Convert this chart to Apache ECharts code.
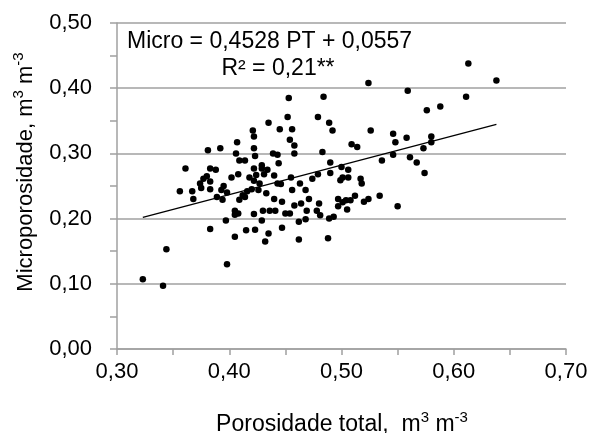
<!DOCTYPE html>
<html>
<head>
<meta charset="utf-8">
<script src="https://cdn.jsdelivr.net/npm/echarts@6/dist/echarts.min.js"></script>
<style>html,body{margin:0;padding:0;background:#fff;}#c{width:593px;height:433px;}</style>
</head>
<body>
<div id="c"></div>
<script>
var porosidadeTotal = [0.323,0.341,0.344,0.356,0.361,0.367,0.368,0.374,0.375,0.377,0.380,0.381,0.383,0.383,0.383,0.383,0.388,0.389,0.392,0.393,0.394,0.395,0.397,0.398,0.398,0.402,0.405,0.405,0.405,0.406,0.407,0.408,0.408,0.409,0.409,0.412,0.414,0.414,0.415,0.416,0.418,0.420,0.421,0.422,0.422,0.422,0.422,0.422,0.423,0.423,0.424,0.427,0.426,0.429,0.429,0.430,0.429,0.431,0.432,0.433,0.434,0.435,0.435,0.436,0.439,0.440,0.440,0.441,0.443,0.443,0.444,0.445,0.446,0.447,0.447,0.450,0.452,0.453,0.454,0.454,0.455,0.456,0.456,0.458,0.458,0.458,0.462,0.462,0.463,0.464,0.468,0.468,0.469,0.471,0.474,0.478,0.479,0.479,0.480,0.481,0.484,0.483,0.488,0.489,0.489,0.490,0.490,0.492,0.493,0.497,0.497,0.499,0.500,0.501,0.501,0.504,0.505,0.506,0.506,0.508,0.509,0.514,0.512,0.517,0.518,0.520,0.524,0.524,0.526,0.534,0.536,0.546,0.546,0.548,0.550,0.558,0.559,0.561,0.567,0.573,0.574,0.576,0.580,0.580,0.588,0.611,0.613,0.638];
var microporosidade = [0.107,0.097,0.153,0.242,0.277,0.242,0.230,0.254,0.247,0.261,0.265,0.305,0.277,0.257,0.245,0.184,0.275,0.233,0.308,0.244,0.229,0.250,0.197,0.240,0.130,0.263,0.212,0.172,0.206,0.300,0.317,0.268,0.208,0.289,0.229,0.236,0.289,0.233,0.182,0.242,0.263,0.245,0.335,0.326,0.308,0.277,0.258,0.207,0.296,0.183,0.267,0.254,0.244,0.282,0.197,0.212,0.277,0.268,0.165,0.239,0.275,0.347,0.177,0.212,0.300,0.266,0.230,0.212,0.298,0.254,0.285,0.337,0.253,0.186,0.226,0.208,0.356,0.385,0.321,0.208,0.263,0.244,0.337,0.220,0.312,0.300,0.195,0.168,0.254,0.223,0.244,0.199,0.212,0.230,0.261,0.212,0.356,0.268,0.223,0.205,0.387,0.302,0.170,0.347,0.200,0.270,0.286,0.335,0.203,0.219,0.230,0.259,0.279,0.263,0.225,0.228,0.214,0.275,0.263,0.228,0.314,0.310,0.235,0.261,0.254,0.226,0.230,0.408,0.335,0.235,0.289,0.330,0.298,0.317,0.219,0.324,0.396,0.294,0.286,0.308,0.270,0.366,0.326,0.317,0.372,0.387,0.438,0.412];
var trendSlope = 0.4528;
var trendIntercept = 0.0557;
var trendXRange = [0.323, 0.638];
var xTickLabels = ['0,30','0,40','0,50','0,60','0,70'];
var yTickLabels = ['0,00','0,10','0,20','0,30','0,40','0,50'];

var points = porosidadeTotal.map(function (x, i) { return [x, microporosidade[i]]; });
var trend = trendXRange.map(function (x) { return [x, trendSlope * x + trendIntercept]; });

var FONT = '"Liberation Sans", Arial, sans-serif';
var chart = echarts.init(document.getElementById('c'), null, {renderer: 'canvas'});

chart.setOption({
  animation: false,
  backgroundColor: '#ffffff',
  grid: {left: 117, right: 27, top: 23, bottom: 84, containLabel: false},
  xAxis: {
    type: 'value', min: 0.3, max: 0.7, interval: 0.1,
    axisLine: {show: true, onZero: false, lineStyle: {color: '#a0a0a0', width: 1.5}},
    axisTick: {show: true, length: 6, lineStyle: {color: '#a0a0a0', width: 1.5}},
    minorTick: {show: true, splitNumber: 2, length: 6, lineStyle: {color: '#a0a0a0', width: 1.5}},
    splitLine: {show: false},
    axisLabel: {
      margin: 12, color: '#000', fontSize: 22, fontFamily: FONT,
      formatter: function (v) { return xTickLabels[Math.round((v - 0.3) / 0.1)]; }
    }
  },
  yAxis: {
    type: 'value', min: 0, max: 0.5, interval: 0.1,
    axisLine: {show: true, lineStyle: {color: '#a0a0a0', width: 1.5}},
    axisTick: {show: true, length: 7, lineStyle: {color: '#a0a0a0', width: 1.5}},
    minorTick: {show: true, splitNumber: 2, length: 7, lineStyle: {color: '#a0a0a0', width: 1.5}},
    splitLine: {show: true, lineStyle: {color: '#a0a0a0', width: 1.5}},
    axisLabel: {
      margin: 25, color: '#000', fontSize: 22, fontFamily: FONT,
      formatter: function (v) { return yTickLabels[Math.round(v / 0.1)]; }
    }
  },
  series: [
    {
      type: 'scatter', data: points, symbol: 'circle', symbolSize: 6.5,
      itemStyle: {color: '#000', opacity: 1}, z: 3
    },
    {
      type: 'line', data: trend, symbol: 'none', showSymbol: false,
      lineStyle: {color: '#000', width: 1.3}, z: 4, silent: true
    }
  ],
  graphic: [
    {
      type: 'text', left: 127, top: 30,
      style: {text: 'Micro = 0,4528 PT + 0,0557', fill: '#000', font: '23px ' + FONT}
    },
    {
      type: 'text', x: 278, y: 69,
      style: {text: 'R² = 0,21**', fill: '#000', font: '23px ' + FONT, align: 'center', verticalAlign: 'middle'}
    },
    {
      type: 'text', x: 342, y: 423,
      style: {
        text: '{a|Porosidade total,  m}{s|3}{a| m}{s|-3}',
        align: 'center', verticalAlign: 'middle',
        rich: {
          a: {fontSize: 23, fontFamily: FONT, fill: '#000', color: '#000', lineHeight: 26, verticalAlign: 'bottom'},
          s: {fontSize: 15, fontFamily: FONT, fill: '#000', color: '#000', lineHeight: 26, verticalAlign: 'top'}
        }
      }
    },
    {
      type: 'text', x: 24, y: 172, rotation: Math.PI / 2,
      style: {
        text: '{a|Microporosidade, m}{s|3}{a| m}{s|-3}',
        align: 'center', verticalAlign: 'middle',
        rich: {
          a: {fontSize: 22, fontFamily: FONT, fill: '#000', color: '#000', lineHeight: 26, verticalAlign: 'bottom'},
          s: {fontSize: 15, fontFamily: FONT, fill: '#000', color: '#000', lineHeight: 26, verticalAlign: 'top'}
        }
      }
    }
  ]
});
</script>
</body>
</html>
